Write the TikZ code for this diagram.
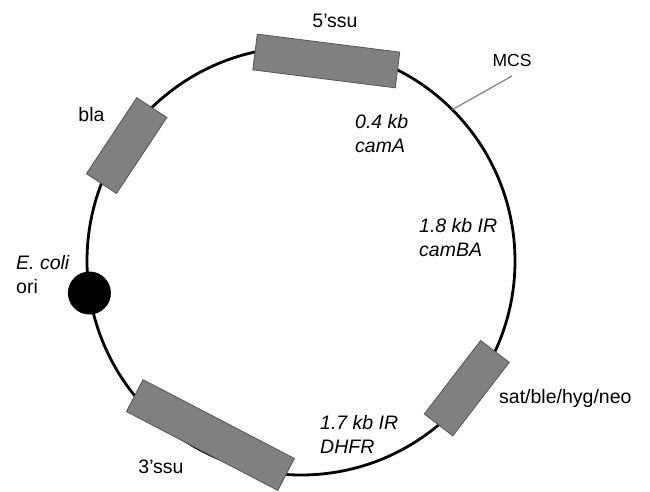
\documentclass[tikz,border=0pt]{standalone}
\usepackage{fontspec}
\setmainfont{Liberation Sans}
\definecolor{boxfill}{RGB}{128,128,128}
\definecolor{boxedge}{RGB}{85,85,85}
\definecolor{pointer}{RGB}{120,120,120}
\begin{document}
\begin{tikzpicture}[x=1pt,y=1pt,
  genebox/.style={draw=boxedge, fill=boxfill, line width=0.8pt,
    minimum height=36pt, inner sep=0pt, rectangle},
  lbl/.style={inner sep=0pt, font=\fontsize{19.5}{23.5}\selectfont, align=left},
  smalllbl/.style={inner sep=0pt, font=\fontsize{17.5}{21}\selectfont}]
\useasboundingbox (0,0) rectangle (650,491);

% plasmid backbone
\coordinate (C) at (301,230);
\draw[line width=2.8pt] (C) circle[radius=214pt];

% MCS pointer
\coordinate (mcsSite) at ([shift={(45:214pt)}]C);
\coordinate (mcsEnd) at (512,415);
\draw[pointer, line width=1.1pt] (mcsSite) -- (mcsEnd);

% gene blocks, each sitting on a chord of the circle
\node[genebox, minimum width=143.6pt, rotate=-7.2]  (ssu5) at ([shift={(82.8:201.6pt)}]C) {};
\node[genebox, minimum width=91.2pt,  rotate=56.5]  (bla)  at ([shift={(146.5:209.1pt)}]C) {};
\node[genebox, minimum width=170.7pt, rotate=152.5] (ssu3) at ([shift={(242.5:196.2pt)}]C) {};
\node[genebox, minimum width=92.6pt,  rotate=52.5]  (sat)  at ([shift={(-37.5:208.9pt)}]C) {};

% origin of replication
\node[circle, fill=black, minimum size=43pt, inner sep=0pt] (ori) at ([shift={(188.6:214pt)}]C) {};

% labels (two-line labels are placed by the baseline of their last line)
\node[lbl, anchor=base] (tssu5) at (335,463) {5’ssu};
\node[smalllbl, anchor=base] (tmcs) at (512,424) {MCS};
\node[lbl, anchor=base] (tbla) at (91.5,370) {bla};
\node[lbl, anchor=base west] (tori) at (16,198) {\itshape E. coli\\ori};
\node[lbl, anchor=base west] (tcamA) at (355,339) {\itshape 0.4 kb\\\itshape camA};
\node[lbl, anchor=base west] (tcamBA) at (419,235) {\itshape 1.8 kb IR\\\itshape camBA};
\node[lbl, anchor=base west] (tdhfr) at (320,38) {\itshape 1.7 kb IR\\\itshape DHFR};
\node[lbl, anchor=base] (tssu3) at (161,18) {3’ssu};
\node[lbl, anchor=base west] (tsat) at (499,88) {sat/ble/hyg/neo};
\end{tikzpicture}
\end{document}
